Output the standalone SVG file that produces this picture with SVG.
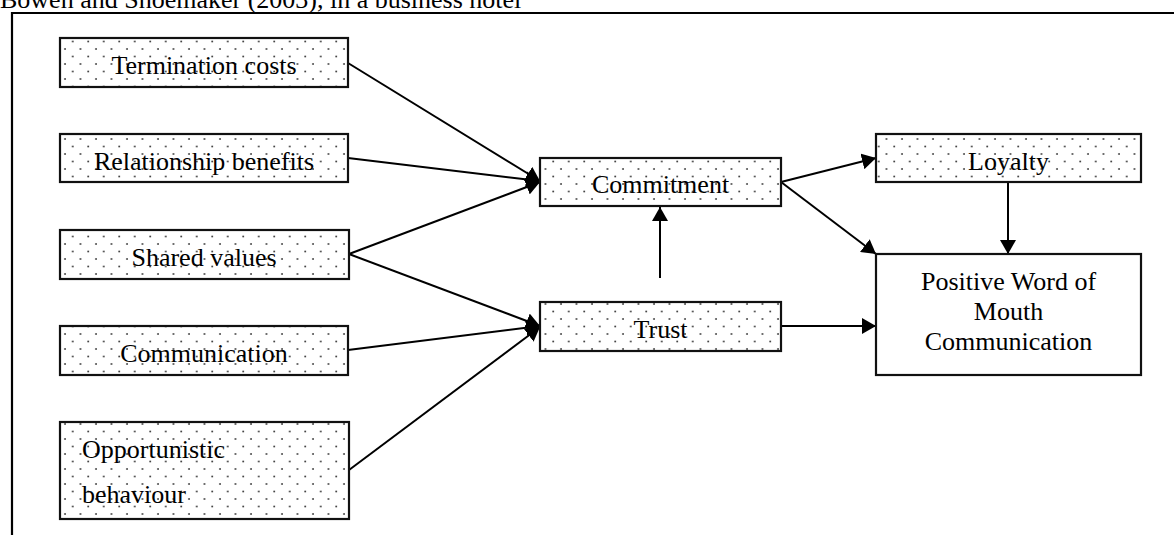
<svg xmlns="http://www.w3.org/2000/svg" width="1174" height="535" viewBox="0 0 1174 535">
<defs>
<pattern id="dots" patternUnits="userSpaceOnUse" width="15.5" height="15" x="0" y="0">
<circle cx="3" cy="4" r="0.9" fill="#333"/>
<circle cx="10.75" cy="11.5" r="0.9" fill="#333"/>
</pattern>
<marker id="arr" viewBox="0 0 14 16" refX="14" refY="8" markerWidth="14" markerHeight="16" markerUnits="userSpaceOnUse" orient="auto">
<path d="M0,0 L14,8 L0,16 Z" fill="#000"/>
</marker>
<style>
.box{fill:url(#dots);stroke:#111;stroke-width:2.2}
.plain{fill:#fff;stroke:#111;stroke-width:2.2}
.t{font-family:"Liberation Serif","Times New Roman",serif;font-size:26px;fill:#000}
.c{text-anchor:middle}
.ln{stroke:#000;stroke-width:2;fill:none;marker-end:url(#arr)}
</style>
</defs>
<rect x="0" y="0" width="1174" height="535" fill="#fff"/>
<text class="t" x="0" y="8">Bowen and Shoemaker (2003), in a business hotel</text>
<path d="M12,535 V13 H1174" fill="none" stroke="#000" stroke-width="2.2"/>
<g id="connectors">
<line class="ln" x1="348" y1="63" x2="540" y2="181"/>
<line class="ln" x1="348" y1="158" x2="540" y2="181"/>
<line class="ln" x1="349" y1="254" x2="540" y2="182"/>
<line class="ln" x1="349" y1="254" x2="540" y2="326"/>
<line class="ln" x1="348" y1="350" x2="540" y2="326"/>
<line class="ln" x1="349" y1="470" x2="540" y2="327"/>
<line class="ln" x1="660" y1="278" x2="660" y2="207"/>
<line class="ln" x1="781" y1="182" x2="876" y2="158"/>
<line class="ln" x1="781" y1="182" x2="876" y2="254"/>
<line class="ln" x1="1008" y1="182" x2="1008" y2="254"/>
<line class="ln" x1="781" y1="326" x2="876" y2="326"/>
</g>
<g id="termination">
<rect class="box" x="60" y="38" width="288" height="49"/>
<text class="t c" x="204" y="74">Termination costs</text>
</g>
<g id="relationship">
<rect class="box" x="60" y="134" width="288" height="48"/>
<text class="t c" x="204" y="170">Relationship benefits</text>
</g>
<g id="shared">
<rect class="box" x="60" y="230" width="289" height="49"/>
<text class="t c" x="204" y="266">Shared values</text>
</g>
<g id="communication">
<rect class="box" x="60" y="326" width="288" height="49"/>
<text class="t c" x="204" y="362">Communication</text>
</g>
<g id="opportunistic">
<rect class="box" x="60" y="422" width="289" height="97"/>
<text class="t" x="82" y="458">Opportunistic</text>
<text class="t" x="82" y="503">behaviour</text>
</g>
<g id="commitment">
<rect class="box" x="540" y="158" width="241" height="48"/>
<text class="t c" x="660.5" y="193">Commitment</text>
</g>
<g id="trust">
<rect class="box" x="540" y="302" width="241" height="49"/>
<text class="t c" x="660.5" y="338">Trust</text>
</g>
<g id="loyalty">
<rect class="box" x="876" y="134" width="265" height="48"/>
<text class="t c" x="1008.5" y="170">Loyalty</text>
</g>
<g id="pwom">
<rect class="plain" x="876" y="254" width="265" height="121"/>
<text class="t c" x="1008.5" y="290">Positive Word of</text>
<text class="t c" x="1008.5" y="320">Mouth</text>
<text class="t c" x="1008.5" y="350">Communication</text>
</g>
</svg>
